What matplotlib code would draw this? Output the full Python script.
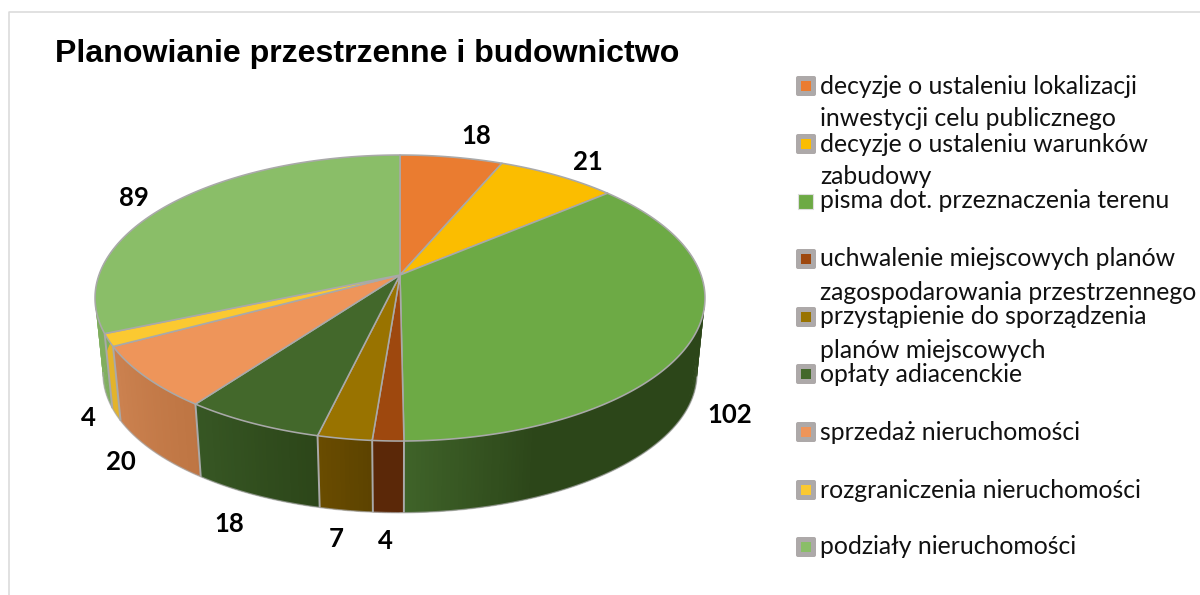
import numpy as np
import matplotlib
matplotlib.use("Agg")
import matplotlib.pyplot as plt
from matplotlib.colors import to_rgb
from matplotlib.patches import Polygon, FancyBboxPatch, Rectangle

title = "Planowianie przestrzenne i budownictwo"
categories = [
    "decyzje o ustaleniu lokalizacji\ninwestycji celu publicznego",
    "decyzje o ustaleniu warunków\nzabudowy",
    "pisma dot. przeznaczenia terenu",
    "uchwalenie miejscowych planów\nzagospodarowania przestrzennego",
    "przystąpienie do sporządzenia\nplanów miejscowych",
    "opłaty adiacenckie",
    "sprzedaż nieruchomości",
    "rozgraniczenia nieruchomości",
    "podziały nieruchomości",
]
values = [18, 21, 102, 4, 7, 18, 20, 4, 89]

top_colors = ["#EA7C30", "#FBBD00", "#6DAA45", "#9E480E", "#997300",
              "#43682B", "#EE955A", "#FBC931", "#8ABE68"]
side_start = ["#C0622A", "#CC9A00", "#2C4619", "#5B2808", "#5C4300",
              "#2C4619", "#BE7543", "#E3B32B", "#7FAE5E"]
side_end = ["#C0622A", "#CC9A00", "#3F6329", "#5B2808", "#6A4C00",
            "#375724", "#CC8250", "#E3B32B", "#7FAE5E"]
side_ramp = [0, 0, 0.83, 0, 0, 0, 0, 0, 0]

label_pos = [(476, 136), (588, 162), (730, 415), (385, 541), (336, 539),
             (229, 524), (121, 462), (88, 418), (134, 198)]
legend_y = [86, 144, 201, 259, 317, 374, 432, 490, 547]

EDGE = "#A9A9A9"
CX, CY, R, H, K = 400.0, 275.0, 301.0, 139.3, 0.161
F, D = 0.974, 76.0


def project(t, bottom=False):
    X, Y = np.sin(t), np.cos(t)
    s = 1.0 / (1.0 + K * Y)
    x, y = CX + R * X * s, CY - H * Y * s
    if bottom:
        x = CX + F * (x - CX)
        y = CY + F * (y - CY) + D
    return x, y


fig = plt.figure(figsize=(12, 5.95), dpi=100, facecolor="white")
ax = fig.add_axes([0, 0, 1, 1])
ax.set_xlim(0, 1200)
ax.set_ylim(595, 0)
ax.axis("off")

ax.plot([1200, 8.5, 8.5], [11.5, 11.5, 595], color="#D9D9D9", lw=1.1, zorder=1)

bounds = np.concatenate([[0], np.cumsum(values)]) / np.sum(values) * 2 * np.pi

# side walls: overlapping strips, no edges, so no seams show
for i in range(len(values)):
    t0, t1 = bounds[i], bounds[i + 1]
    n = max(6, int((t1 - t0) / 0.012))
    ts = np.linspace(t0, t1, n + 1)
    c0, c1 = np.array(to_rgb(side_start[i])), np.array(to_rgb(side_end[i]))
    for j in range(n):
        a, b = ts[j], min(ts[j + 1] + 0.012, t1)
        if np.cos((a + ts[j + 1]) / 2) > 0.25:
            continue
        frac = ((a + ts[j + 1]) / 2 - t0) / (t1 - t0)
        w = np.clip((frac - side_ramp[i]) / (1 - side_ramp[i]), 0, 1)
        col = c0 + (c1 - c0) * w
        xa, ya = project(a)
        xb, yb = project(b)
        xc, yc = project(b, True)
        xd, yd = project(a, True)
        ax.add_patch(Polygon([(xa, ya), (xb, yb), (xc, yc), (xd, yd)],
                             closed=True, facecolor=col, edgecolor="none",
                             lw=0, zorder=2))

ts = np.linspace(np.pi * 0.56, np.pi * 1.45, 300)
bx, by = project(ts, True)
ax.plot(bx, by, color=EDGE, lw=1.0, alpha=0.7, zorder=3)

for b in bounds:
    if np.pi * 0.9 < b < np.pi * 1.42:
        x0, y0 = project(b)
        x1, y1 = project(b, True)
        ax.plot([x0, x1], [y0, y1], color=EDGE, lw=1.4, zorder=3,
                solid_capstyle="butt")

for i in range(len(values)):
    ts = np.linspace(bounds[i], bounds[i + 1], 200)
    x, y = project(ts)
    pts = np.column_stack([np.r_[CX, x], np.r_[CY, y]])
    ax.add_patch(Polygon(pts, closed=True, facecolor=top_colors[i],
                         edgecolor=EDGE, lw=1.15, joinstyle="round", zorder=4))

for v, (lx, ly) in zip(values, label_pos):
    ax.text(lx, ly, str(v), ha="center", va="center", fontsize=18.5,
            fontweight="bold", family="Lato", color="black", zorder=6)

ax.text(55, 54, title, ha="left", va="center", fontsize=23.1,
        fontweight="bold", family="Liberation Sans", color="black", zorder=6)

for i, (cat, cy) in enumerate(zip(categories, legend_y)):
    if i == 2:
        ax.add_patch(Rectangle((798, cy - 7.5), 15, 15, facecolor=top_colors[i],
                               edgecolor="#DDDDDD", lw=0.8, zorder=5))
    else:
        ax.add_patch(FancyBboxPatch((797, cy - 9), 18, 18,
                                    boxstyle="round,pad=1,rounding_size=2",
                                    facecolor="#ADA9A9", edgecolor="none", zorder=5))
        ax.add_patch(Rectangle((801, cy - 5), 10, 10, facecolor=top_colors[i],
                               edgecolor="none", zorder=6))
    for k, line in enumerate(cat.split("\n")):
        ax.text(820, cy + k * 33, line, ha="left", va="center", fontsize=17.8,
                family="Lato", color="#111111", zorder=6)

fig.savefig("out.png", dpi=100, facecolor="white")
